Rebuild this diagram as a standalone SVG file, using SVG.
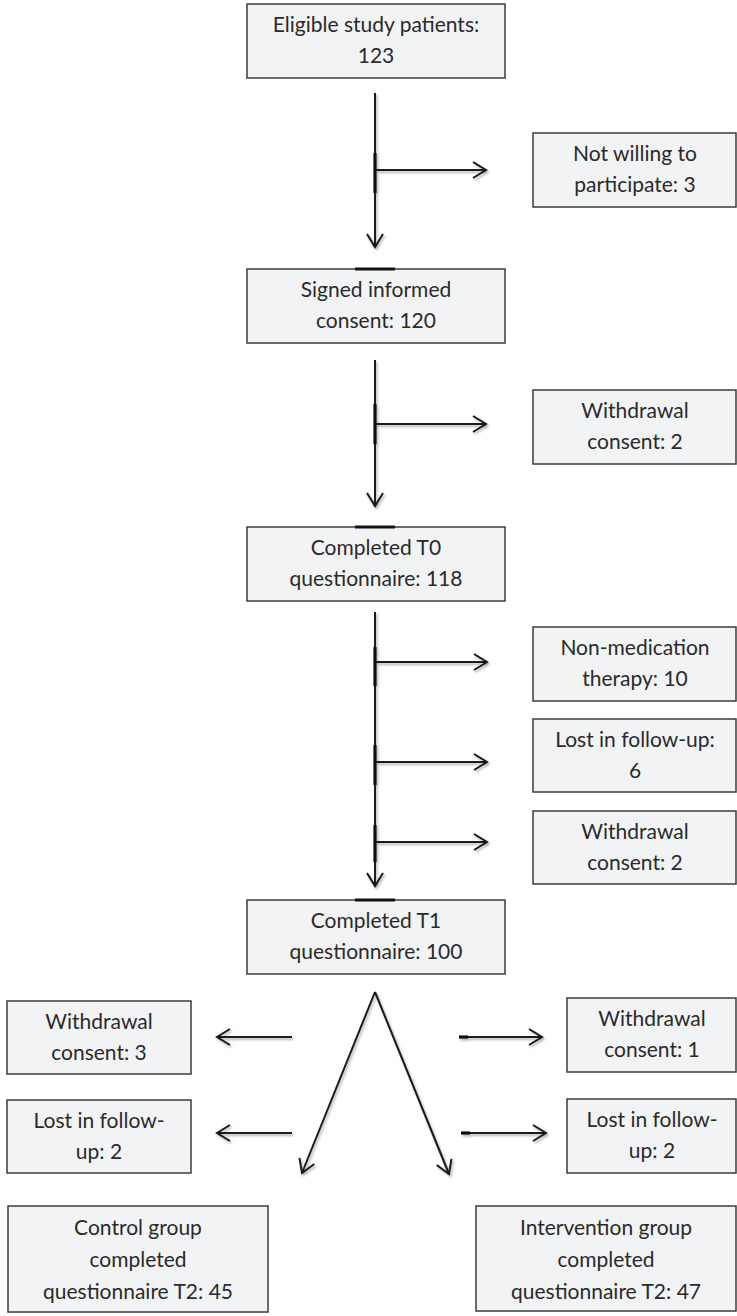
<svg xmlns="http://www.w3.org/2000/svg" width="737" height="1316" viewBox="0 0 737 1316">
<style>
.box{fill:#f2f3f4;stroke:#3c3c3c;stroke-width:1.5}
.bar{stroke:#111;stroke-width:3}
.t{font-family:"Lato","Liberation Sans",sans-serif;font-size:21px;fill:#2a2a2a;text-anchor:middle}
.c{stroke:#1a1a1a;stroke-width:2;fill:none}
.k{stroke:#111;stroke-width:3.2;fill:none}
</style>
<defs>
<filter id="sh" x="-20%" y="-20%" width="140%" height="140%">
<feDropShadow dx="1.5" dy="2" stdDeviation="1.2" flood-color="#000" flood-opacity="0.3"/>
</filter>
<marker id="ah" markerUnits="userSpaceOnUse" markerWidth="20" markerHeight="20" viewBox="-16 -10 20 20" refX="0" refY="0" orient="auto">
<path d="M-13,-8 L0,0 L-13,8" fill="none" stroke="#1a1a1a" stroke-width="2"/>
</marker>
</defs>
<g id="connectors" filter="url(#sh)">
<line class="c" x1="375" y1="93" x2="375" y2="247" marker-end="url(#ah)"/>
<line class="k" x1="375" y1="153" x2="375" y2="193"/>
<line class="c" x1="375" y1="170" x2="486" y2="170" marker-end="url(#ah)"/>
<line class="c" x1="375" y1="360" x2="375" y2="506" marker-end="url(#ah)"/>
<line class="k" x1="375" y1="404" x2="375" y2="444"/>
<line class="c" x1="375" y1="424" x2="486" y2="424" marker-end="url(#ah)"/>
<line class="c" x1="375" y1="612" x2="375" y2="886" marker-end="url(#ah)"/>
<line class="k" x1="375" y1="647" x2="375" y2="686"/>
<line class="k" x1="375" y1="745" x2="375" y2="785"/>
<line class="k" x1="375" y1="825" x2="375" y2="862"/>
<line class="c" x1="375" y1="662" x2="487" y2="662" marker-end="url(#ah)"/>
<line class="c" x1="375" y1="762" x2="487" y2="762" marker-end="url(#ah)"/>
<line class="c" x1="375" y1="842" x2="487" y2="842" marker-end="url(#ah)"/>
<line class="c" x1="375" y1="992" x2="302" y2="1173" marker-end="url(#ah)"/>
<line class="c" x1="375" y1="992" x2="449" y2="1174" marker-end="url(#ah)"/>
<line class="c" x1="292" y1="1037" x2="217" y2="1037" marker-end="url(#ah)"/>
<line class="c" x1="292" y1="1133" x2="217" y2="1133" marker-end="url(#ah)"/>
<line class="c" x1="459" y1="1037" x2="542" y2="1037" marker-end="url(#ah)"/>
<line class="k" x1="459" y1="1037" x2="468" y2="1037"/>
<line class="c" x1="461" y1="1133" x2="546" y2="1133" marker-end="url(#ah)"/>
<line class="k" x1="461" y1="1133" x2="470" y2="1133"/>
</g>
<g id="n-eligible">
<rect class="box" x="247" y="4" width="258" height="74"/>
<text class="t" x="376" y="32">Eligible study patients:</text>
<text class="t" x="376" y="63">123</text>
</g>
<g id="n-notwilling">
<rect class="box" x="533" y="133" width="203" height="74"/>
<text class="t" x="635" y="161">Not willing to</text>
<text class="t" x="635" y="192">participate: 3</text>
</g>
<g id="n-signed">
<rect class="box" x="247" y="269" width="258" height="74"/>
<line class="bar" x1="355" y1="269" x2="395" y2="269"/>
<text class="t" x="376" y="297">Signed informed</text>
<text class="t" x="376" y="328">consent: 120</text>
</g>
<g id="n-withdrawal1">
<rect class="box" x="533" y="390" width="203" height="74"/>
<text class="t" x="635" y="418">Withdrawal</text>
<text class="t" x="635" y="449">consent: 2</text>
</g>
<g id="n-t0">
<rect class="box" x="247" y="527" width="258" height="74"/>
<line class="bar" x1="355" y1="527" x2="395" y2="527"/>
<text class="t" x="376" y="555">Completed T0</text>
<text class="t" x="376" y="586">questionnaire: 118</text>
</g>
<g id="n-nonmed">
<rect class="box" x="533" y="627" width="203" height="74"/>
<text class="t" x="635" y="655">Non-medication</text>
<text class="t" x="635" y="686">therapy: 10</text>
</g>
<g id="n-lost6">
<rect class="box" x="533" y="719" width="203" height="73"/>
<text class="t" x="635" y="747">Lost in follow-up:</text>
<text class="t" x="635" y="778">6</text>
</g>
<g id="n-withdrawal2">
<rect class="box" x="533" y="811" width="203" height="73"/>
<text class="t" x="635" y="839">Withdrawal</text>
<text class="t" x="635" y="870">consent: 2</text>
</g>
<g id="n-t1">
<rect class="box" x="247" y="900" width="258" height="74"/>
<line class="bar" x1="355" y1="900" x2="395" y2="900"/>
<text class="t" x="376" y="928">Completed T1</text>
<text class="t" x="376" y="959">questionnaire: 100</text>
</g>
<g id="n-withdrawal3">
<rect class="box" x="7" y="1001" width="184" height="73"/>
<text class="t" x="99" y="1029">Withdrawal</text>
<text class="t" x="99" y="1060">consent: 3</text>
</g>
<g id="n-lost2a">
<rect class="box" x="7" y="1100" width="184" height="73"/>
<text class="t" x="99" y="1128">Lost in follow-</text>
<text class="t" x="99" y="1159">up: 2</text>
</g>
<g id="n-withdrawal4">
<rect class="box" x="567" y="998" width="169" height="74"/>
<text class="t" x="652" y="1026">Withdrawal</text>
<text class="t" x="652" y="1057">consent: 1</text>
</g>
<g id="n-lost2b">
<rect class="box" x="567" y="1099" width="169" height="74"/>
<text class="t" x="652" y="1127">Lost in follow-</text>
<text class="t" x="652" y="1158">up: 2</text>
</g>
<g id="n-control">
<rect class="box" x="8" y="1206" width="260" height="106"/>
<text class="t" x="138" y="1235">Control group</text>
<text class="t" x="138" y="1267">completed</text>
<text class="t" x="138" y="1299">questionnaire T2: 45</text>
</g>
<g id="n-intervention">
<rect class="box" x="476" y="1206" width="260" height="105"/>
<text class="t" x="606" y="1235">Intervention group</text>
<text class="t" x="606" y="1267">completed</text>
<text class="t" x="606" y="1299">questionnaire T2: 47</text>
</g>
</svg>
